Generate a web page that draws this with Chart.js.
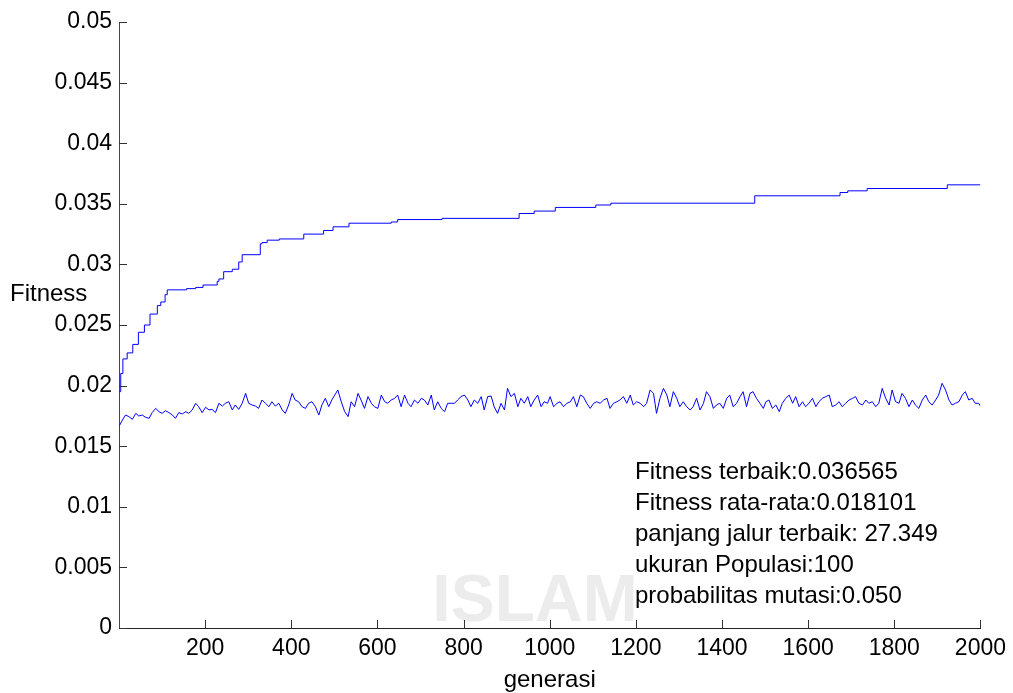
<!DOCTYPE html>
<html>
<head>
<meta charset="utf-8">
<script src="https://cdn.jsdelivr.net/npm/chart.js@4.4.1/dist/chart.umd.min.js"></script>
<style>
  body { margin: 0; background: #fff; }
</style>
</head>
<body>
<canvas id="fitChart" width="1013" height="693"></canvas>
<script>
// best fitness per generation (value holds until the next step)
const bestGen = [1, 4, 9, 19, 32, 45, 59, 72, 89, 97, 107, 112, 157, 178, 195, 228, 232, 243, 263, 278,
  286, 328, 332, 344, 372, 429, 475, 497, 534, 632, 647, 750, 929, 964, 1013, 1107, 1142, 1476, 1674, 1692,
  1737, 1923, 2000];
const bestFit = [0.0195, 0.0210, 0.0222, 0.0227, 0.0234, 0.0244, 0.0250, 0.0259, 0.0266, 0.0269, 0.0275, 0.0279,
  0.0280, 0.0281, 0.0283, 0.0286, 0.0288, 0.0294, 0.0296, 0.0302, 0.0308, 0.0317, 0.0318, 0.0320, 0.0321,
  0.0325, 0.0328, 0.0331, 0.0334, 0.0335, 0.0337, 0.0338, 0.0342, 0.0344, 0.0347, 0.0349, 0.03505, 0.03566,
  0.03593, 0.03607, 0.03626, 0.036565, 0.036565];

// average fitness
const avgGen = [
  1, 8, 15, 23, 31, 39, 46, 54, 62, 70, 77, 85, 93, 100, 108, 116, 124, 131, 139, 147, 155, 162, 170, 178, 185,
  193, 201, 209, 216, 224, 232, 240, 247, 255, 263, 270, 278, 286, 294, 301, 309, 317, 324, 332, 340, 348, 355,
  363, 371, 379, 386, 394, 402, 409, 417, 425, 433, 440, 448, 456, 464, 471, 479, 487, 494,
  501, 508, 516, 524, 532, 539, 547, 555, 562, 570, 578, 586, 593, 601, 609, 617, 624, 632, 640, 647, 655, 663,
  671, 678, 686, 694, 702, 709, 717, 725, 732, 740, 748, 756, 763, 771, 779, 786, 794, 802, 810, 817, 825, 833,
  841, 848, 856, 864, 871, 879, 887, 895, 902, 910, 918, 926, 933, 941, 949, 956, 964, 972, 980, 987, 995,
  1001, 1009, 1017, 1024, 1032, 1040, 1048, 1055, 1063, 1071, 1078, 1086, 1094, 1102, 1109, 1117, 1125, 1133,
  1140, 1148, 1156, 1163, 1171, 1179, 1187, 1194, 1202, 1210, 1218, 1225, 1233, 1241, 1248, 1256, 1264, 1272,
  1279, 1287, 1295, 1302, 1310, 1318, 1326, 1333, 1341, 1349, 1357, 1364, 1372, 1380, 1387, 1395, 1403, 1411,
  1418, 1426, 1434, 1442, 1449, 1457, 1465, 1472, 1480, 1488, 1496,
  1502, 1509, 1517, 1525, 1533, 1540, 1548, 1556, 1564, 1571, 1579, 1587, 1594, 1602, 1610, 1618, 1625, 1633,
  1641, 1649, 1656, 1664, 1672, 1679, 1687, 1695, 1703, 1710, 1718, 1726, 1734, 1741, 1749, 1757, 1764, 1772,
  1780, 1788, 1795, 1803, 1811, 1818, 1826, 1834, 1842, 1849, 1857, 1865, 1873, 1880, 1888, 1896, 1903, 1911,
  1919, 1927, 1934, 1942, 1950, 1958, 1965, 1973, 1981, 1988, 1996, 2000];
const avgFit = [
  0.01670, 0.01716, 0.01757, 0.01744, 0.01722, 0.01771, 0.01749, 0.01757, 0.01738, 0.01730, 0.01777, 0.01812,
  0.01785, 0.01771, 0.01793, 0.01777, 0.01757, 0.01730, 0.01777, 0.01766, 0.01785, 0.01771, 0.01799, 0.01854,
  0.01826, 0.01777, 0.01821, 0.01799, 0.01804, 0.01777, 0.01854, 0.01831, 0.01854, 0.01867, 0.01799, 0.01840,
  0.01804, 0.01854, 0.01936, 0.01854, 0.01840, 0.01831, 0.01812, 0.01881, 0.01854, 0.01826, 0.01867, 0.01831,
  0.01854, 0.01799, 0.01771, 0.01840, 0.01936, 0.01881, 0.01867, 0.01826, 0.01812, 0.01854, 0.01867, 0.01826,
  0.01757, 0.01840, 0.01895, 0.01826, 0.01881,
  0.01922, 0.01964, 0.01867, 0.01785, 0.01744, 0.01867, 0.01826, 0.01936, 0.01881, 0.01812, 0.01909, 0.01854,
  0.01826, 0.01812, 0.01922, 0.01867, 0.01854, 0.01881, 0.01895, 0.01922, 0.01826, 0.01922, 0.01854, 0.01826,
  0.01881, 0.01854, 0.01895, 0.01881, 0.01840, 0.01922, 0.01799, 0.01867, 0.01812, 0.01785, 0.01854, 0.01854,
  0.01854, 0.01881, 0.01909, 0.01922, 0.01881, 0.01826, 0.01881, 0.01854, 0.01909, 0.01799, 0.01909, 0.01914,
  0.01826, 0.01771, 0.01854, 0.01799, 0.01977, 0.01909, 0.01936, 0.01826, 0.01895, 0.01854, 0.01909, 0.01826,
  0.01881, 0.01922, 0.01826, 0.01867, 0.01854,
  0.01909, 0.01826, 0.01854, 0.01867, 0.01826, 0.01854, 0.01867, 0.01909, 0.01826, 0.01922, 0.01909, 0.01854,
  0.01812, 0.01854, 0.01867, 0.01854, 0.01881, 0.01895, 0.01812, 0.01854, 0.01867, 0.01881, 0.01909, 0.01854,
  0.01922, 0.01840, 0.01867, 0.01854, 0.01826, 0.01854, 0.01964, 0.01936, 0.01771, 0.01895, 0.01977, 0.01922,
  0.01826, 0.01950, 0.01895, 0.01826, 0.01867, 0.01826, 0.01799, 0.01826, 0.01895, 0.01799, 0.01854, 0.01950,
  0.01909, 0.01812, 0.01840, 0.01854, 0.01812, 0.01895, 0.01922, 0.01826, 0.01854, 0.01909, 0.01950, 0.01826,
  0.01936, 0.01950, 0.01895, 0.01854, 0.01812,
  0.01867, 0.01881, 0.01812, 0.01840, 0.01785, 0.01854, 0.01895, 0.01922, 0.01854, 0.01909, 0.01826, 0.01867,
  0.01826, 0.01854, 0.01895, 0.01826, 0.01867, 0.01895, 0.01909, 0.01922, 0.01826, 0.01840, 0.01867, 0.01826,
  0.01854, 0.01881, 0.01895, 0.01909, 0.01854, 0.01840, 0.01881, 0.01854, 0.01867, 0.01826, 0.01854, 0.01977,
  0.01895, 0.01840, 0.01964, 0.01867, 0.01854, 0.01936, 0.01895, 0.01826, 0.01881, 0.01840, 0.01812, 0.01881,
  0.01922, 0.01867, 0.01840, 0.01881, 0.01922, 0.02019, 0.01964, 0.01881, 0.01840, 0.01854, 0.01867, 0.01922,
  0.01950, 0.01881, 0.01895, 0.01854, 0.01854, 0.01830];

const yTicks = [0, 0.005, 0.01, 0.015, 0.02, 0.025, 0.03, 0.035, 0.04, 0.045, 0.05];
const yLabels = ['0', '0.005', '0.01', '0.015', '0.02', '0.025', '0.03', '0.035', '0.04', '0.045', '0.05'];
const xTicks = [200, 400, 600, 800, 1000, 1200, 1400, 1600, 1800, 2000];
const xLabels = ['200', '400', '600', '800', '1000', '1200', '1400', '1600', '1800', '2000'];

const infoLines = [
  'Fitness terbaik:0.036565',
  'Fitness rata-rata:0.018101',
  'panjang jalur terbaik: 27.349',
  'ukuran Populasi:100',
  'probabilitas mutasi:0.050'
];

const FONT = '"Liberation Sans", Arial, Helvetica, sans-serif';
Chart.defaults.font.family = FONT;
Chart.defaults.font.size = 23;
Chart.defaults.color = '#000';

const toPoints = (xs, ys) => xs.map((x, i) => ({ x: x, y: ys[i] }));

// inward ticks, axis labels, info text and the faint watermark
const matlabLook = {
  id: 'matlabLook',
  beforeDatasetsDraw(chart) {
    const { ctx } = chart;
    ctx.save();
    ctx.fillStyle = '#ececec';
    ctx.font = '600 66px ' + FONT;
    ctx.textAlign = 'center';
    ctx.textBaseline = 'middle';
    ctx.fillText('ISLAM', 535, 603);
    ctx.restore();
  },
  afterDraw(chart) {
    const { ctx, chartArea, scales } = chart;
    ctx.save();
    ctx.strokeStyle = '#333';
    ctx.lineWidth = 1;
    ctx.beginPath();
    yTicks.forEach(v => {
      const py = Math.round(scales.y.getPixelForValue(v)) + 0.5;
      ctx.moveTo(chartArea.left, py);
      ctx.lineTo(chartArea.left + 8, py);
    });
    xTicks.forEach(v => {
      const px = Math.round(scales.x.getPixelForValue(v)) + 0.5;
      ctx.moveTo(px, chartArea.bottom);
      ctx.lineTo(px, chartArea.bottom - 8);
    });
    ctx.stroke();

    ctx.fillStyle = '#000';
    ctx.font = '24px ' + FONT;
    ctx.textBaseline = 'middle';
    ctx.textAlign = 'left';
    ctx.fillText('Fitness', 10, 294);
    ctx.textAlign = 'center';
    ctx.fillText('generasi', (chartArea.left + chartArea.right) / 2, 680);

    ctx.textAlign = 'left';
    const tx = scales.x.getPixelForValue(1198);
    infoLines.forEach((line, i) => {
      ctx.fillText(line, tx, 472 + i * 31);
    });
    ctx.restore();
  }
};

const ctx = document.getElementById('fitChart').getContext('2d');
const fitChart = new Chart(ctx, {
  type: 'line',
  data: {
    datasets: [{
      label: 'Fitness terbaik',
      data: toPoints(bestGen, bestFit),
      borderColor: '#0000ff',
      borderWidth: 1,
      pointRadius: 0,
      stepped: 'before',
      tension: 0
    }, {
      label: 'Fitness rata-rata',
      data: toPoints(avgGen, avgFit),
      borderColor: '#0000ff',
      borderWidth: 1,
      pointRadius: 0,
      tension: 0
    }]
  },
  options: {
    responsive: false,
    devicePixelRatio: 1,
    animation: false,
    events: [],
    layout: { padding: { top: 22, right: 31, left: 0, bottom: 0 } },
    plugins: {
      legend: { display: false },
      tooltip: { enabled: false }
    },
    scales: {
      x: {
        type: 'linear',
        min: 0,
        max: 2000,
        afterBuildTicks: s => { s.ticks = xTicks.map(v => ({ value: v })); },
        afterFit: s => { s.height = 65; },
        ticks: {
          padding: 7,
          maxRotation: 0,
          autoSkip: false,
          callback: (v, i) => xLabels[i]
        },
        grid: { display: false, drawTicks: false },
        border: { display: true, color: '#222', width: 1 }
      },
      y: {
        type: 'linear',
        min: 0,
        max: 0.05,
        afterBuildTicks: s => { s.ticks = yTicks.map(v => ({ value: v })); },
        afterFit: s => { s.width = 119; },
        ticks: {
          padding: 7,
          autoSkip: false,
          callback: (v, i) => yLabels[i]
        },
        grid: { display: false, drawTicks: false },
        border: { display: true, color: '#444', width: 1 }
      }
    }
  },
  plugins: [matlabLook]
});
</script>
</body>
</html>
